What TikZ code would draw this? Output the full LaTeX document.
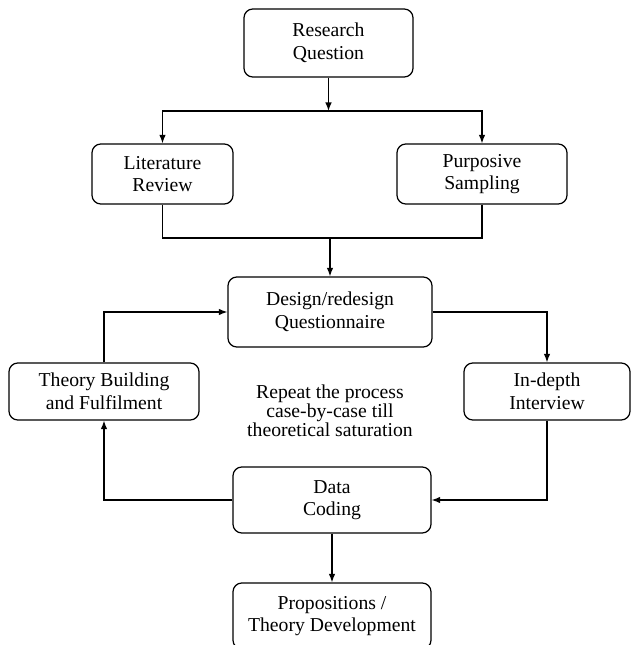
\documentclass[tikz,border=0pt]{standalone}
\usepackage{fontspec}
\setmainfont{Liberation Serif}
\usetikzlibrary{arrows.meta}
\begin{document}
\begin{tikzpicture}[line width=0.7pt,
    box/.style={draw, rounded corners=5pt, align=center, inner sep=0pt,
      font=\fontsize{11.2pt}{12.8pt}\selectfont}]
        \useasboundingbox (0,0) rectangle (12.6,12.9);

        \node[box, minimum width=3.38cm, minimum height=1.36cm] (0) at (6.57,12.04) {Research\\Question};
        \node[box, minimum width=2.82cm, minimum height=1.2cm] (1) at (3.25,9.42) {Literature\\Review};
        \node[box, minimum width=3.4cm, minimum height=1.2cm] (2) at (9.64,9.42) {Purposive\\Sampling};
        \node[box, minimum width=4.08cm, minimum height=1.4cm] (3) at (6.6,6.66) {Design/redesign\\Questionnaire};
        \node[box, minimum width=3.8cm, minimum height=1.14cm] (4) at (2.08,5.07) {Theory Building\\and Fulfilment};
        \node[box, minimum width=3.32cm, minimum height=1.14cm] (5) at (10.94,5.07) {In-depth\\Interview};
        \node[box, minimum width=3.96cm, minimum height=1.32cm] (6) at (6.64,2.9) {Data\\Coding};
        \node[box, minimum width=3.96cm, minimum height=1.32cm] (7) at (6.64,0.58) {Propositions /\\Theory Development};
        \node[align=center, font=\fontsize{11.2pt}{10.8pt}\selectfont] (8) at (6.6,4.68) {Repeat the process\\case-by-case till\\theoretical saturation};

        \coordinate (a) at (6.57,10.68);
        \coordinate (b) at (6.6,8.14);

        \draw[->, >={Latex[length=1.7mm,width=1.3mm]}] (0) -- (a);
        \draw[->, >={Latex[length=1.7mm,width=1.3mm]}] (a) -| (1);
        \draw[->, >={Latex[length=1.7mm,width=1.3mm]}] (a) -| (2);
        \draw (1) |- (b);
        \draw (2) |- (b);
        \draw[->, >={Latex[length=1.7mm,width=1.3mm]}] (b) -- (3);
        \draw[->, >={Latex[length=1.7mm,width=1.3mm]}] (3) -| (5);
        \draw[->, >={Latex[length=1.7mm,width=1.3mm]}] (5) |- (6);
        \draw[->, >={Latex[length=1.7mm,width=1.3mm]}] (6) -| (4);
        \draw[->, >={Latex[length=1.7mm,width=1.3mm]}] (4) |- (3);
        \draw[->, >={Latex[length=1.7mm,width=1.3mm]}] (6) -- (7);
      \end{tikzpicture}
\end{document}
